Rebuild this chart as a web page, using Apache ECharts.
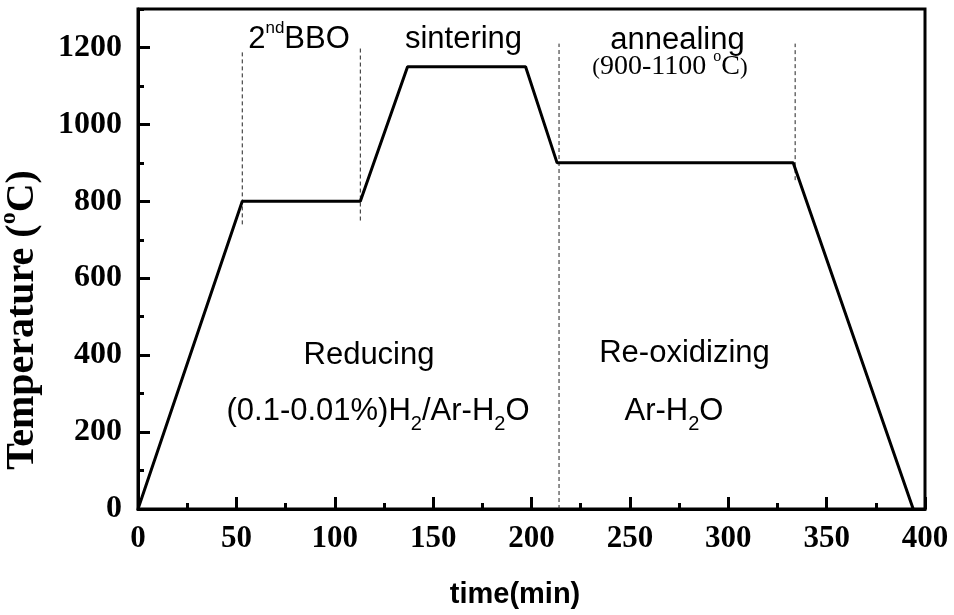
<!DOCTYPE html>
<html>
<head>
<meta charset="utf-8">
<script src="https://cdn.jsdelivr.net/npm/echarts@6/dist/echarts.min.js"></script>
<style>html,body{margin:0;padding:0;background:#fff;}#c{width:954px;height:615px;}</style>
</head>
<body>
<div id="c"></div>
<script>
// ---- data ----
const timeMin = [0, 53, 113, 137, 197, 213, 333, 394];
const tempC   = [0, 800, 800, 1150, 1150, 900, 900, 0];
const markerX      = [53, 113, 214, 334];
const markerTop    = [1190, 1200, 1210, 1210];
const markerBottom = [740, 750, 0, 855];
const xTicks = [0, 50, 100, 150, 200, 250, 300, 350, 400];
const yTicks = [0, 200, 400, 600, 800, 1000, 1200];

const SANS = 'Liberation Sans', SERIF = 'Liberation Serif';
const ctx = document.createElement('canvas').getContext('2d');
function fontStr(p){ return (p.w||'normal') + ' ' + p.s + 'px "' + (p.f||SANS) + '"'; }
function run(parts, cx, baseline, extra){
  parts.forEach(p => { ctx.font = fontStr(p); p.width = ctx.measureText(p.t).width; });
  const total = parts.reduce((a,p)=>a+p.width,0);
  let x = -total/2;
  const children = parts.map(p => {
    const el = {type:'text', x:x, y:(p.dy||0) - 0.345*p.s,
      style:{text:p.t, font:fontStr(p), fill:'#000', align:'left', verticalAlign:'middle', lineHeight:p.s}};
    x += p.width;
    return el;
  });
  return Object.assign({type:'group', x:cx, y:baseline, children:children, silent:true}, extra||{});
}

const chart = echarts.init(document.getElementById('c'), null, {renderer:'canvas'});

const series = [{
  type:'line', data: timeMin.map((t,i)=>[t,tempC[i]]), symbol:'none',
  lineStyle:{color:'#000', width:3}, z:5
}];
markerX.forEach((x,i)=>{
  series.push({type:'line', data:[[x,markerBottom[i]],[x,markerTop[i]]], symbol:'none',
    lineStyle:{color:'#222', width:1, type:[4,3]}, z:3});
});

const grid = {left:138, right:29, top:9, bottom:106, show:true, borderColor:'#000', borderWidth:3};

chart.setOption({
  animation:false,
  grid: grid,
  xAxis: [{
    type:'value', min:0, max:400, interval:50, gridIndex:0,
    axisLine:{show:true, onZero:false, lineStyle:{color:'#000', width:3}},
    axisTick:{show:true, inside:true, length:12, lineStyle:{color:'#000', width:3}},
    splitLine:{show:false},
    axisLabel:{color:'#000', fontFamily:SERIF, fontWeight:'bold', fontSize:31, margin:14,
      formatter: v => xTicks.indexOf(v) >= 0 ? String(v) : ''}
  },{
    type:'value', min:0, max:400, interval:25, gridIndex:0, position:'bottom',
    axisLine:{show:false}, axisLabel:{show:false}, splitLine:{show:false},
    axisTick:{show:true, inside:true, length:6, lineStyle:{color:'#000', width:3}}
  }],
  yAxis: [{
    type:'value', min:0, max:1300, interval:200,
    axisLine:{show:true, onZero:false, lineStyle:{color:'#000', width:3}},
    axisTick:{show:true, inside:true, length:12, lineStyle:{color:'#000', width:3}},
    splitLine:{show:false},
    axisLabel:{color:'#000', fontFamily:SERIF, fontWeight:'bold', fontSize:32, margin:16, showMaxLabel:false,
      formatter: v => yTicks.indexOf(v) >= 0 ? String(v) : ''}
  },{
    type:'value', min:0, max:1300, interval:100, position:'left',
    axisLine:{show:false}, axisLabel:{show:false}, splitLine:{show:false},
    axisTick:{show:true, inside:true, length:6, lineStyle:{color:'#000', width:3}}
  }],
  series: series,
  graphic: [
    run([{t:'2',s:31},{t:'nd',s:17,dy:-16},{t:'BBO',s:31}], 299, 50),
    run([{t:'sintering',s:31}], 463.5, 50),
    run([{t:'annealing',s:31}], 677.5, 51),
    run([{t:'(',s:23,f:SERIF},{t:'900-1100 ',s:28,f:SERIF},{t:'o',s:16,f:SERIF,dy:-14},{t:'C',s:28,f:SERIF},{t:')',s:23,f:SERIF}], 670, 76),
    run([{t:'Reducing',s:31}], 369, 366),
    run([{t:'(0.1-0.01%)H',s:31},{t:'2',s:20,dy:10},{t:'/Ar-H',s:31},{t:'2',s:20,dy:10},{t:'O',s:31}], 378, 421.7),
    run([{t:'Re-oxidizing',s:31}], 684.5, 364),
    run([{t:'Ar-H',s:31},{t:'2',s:20,dy:10},{t:'O',s:31}], 674, 421.7),
    run([{t:'time(min)',s:29,w:'bold'}], 515, 605),
    run([{t:'Temperature (',s:40,w:'bold',f:SERIF},{t:'o',s:24,w:'bold',f:SERIF,dy:-19},{t:'C)',s:40,w:'bold',f:SERIF}], 36, 320, {rotation:Math.PI/2})
  ]
});
</script>
</body>
</html>
